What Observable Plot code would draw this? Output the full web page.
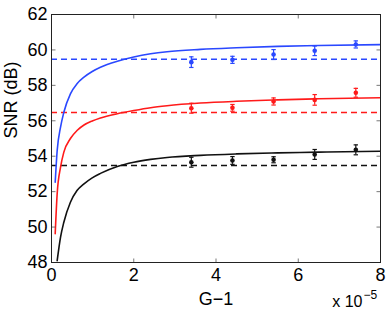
<!DOCTYPE html>
<html>
<head>
<meta charset="utf-8">
<script src="https://cdn.jsdelivr.net/npm/d3@7"></script>
<script src="https://cdn.jsdelivr.net/npm/@observablehq/plot@0.6"></script>
<style>
  html, body { margin: 0; padding: 0; background: #fff; }
</style>
</head>
<body>
<div id="chart"></div>
<script>
// ---- data (x in units of 1e-5) ----
const curveX = [0.09, 0.138, 0.22, 0.30, 0.46, 0.62, 0.79, 0.99, 1.19, 1.6, 2.0, 2.41, 2.81, 3.62, 4.5, 5.5, 6.5, 8.0];
const blueCurve = [52.53, 54.32, 55.64, 56.48, 57.52, 58.09, 58.46, 58.78, 59.02, 59.36, 59.60, 59.78, 59.90, 60.03, 60.12, 60.20, 60.25, 60.30];
const redCurve  = [49.62, 51.88, 53.38, 54.23, 55.00, 55.45, 55.76, 55.99, 56.16, 56.40, 56.58, 56.74, 56.85, 57.00, 57.10, 57.18, 57.24, 57.30];
const blackCurveX = [0.138, 0.22, 0.30, 0.46, 0.62, 0.79, 0.99, 1.19, 1.6, 2.0, 2.41, 2.81, 3.62, 4.5, 5.5, 6.5, 8.0];
const blackCurve  = [48.1, 49.43, 50.27, 51.4, 52.06, 52.44, 52.78, 53.03, 53.42, 53.66, 53.82, 53.93, 54.05, 54.13, 54.19, 54.23, 54.28];

const refLevels = [59.47, 56.47, 53.47];            // blue, red, black dashed

const pointX   = [3.4, 4.4, 5.4, 6.4, 7.4];
const blueY    = [59.31, 59.44, 59.74, 59.95, 60.31];
const blueErr  = [0.30, 0.20, 0.28, 0.27, 0.20];
const redY     = [56.71, 56.73, 57.09, 57.18, 57.58];
const redErr   = [0.28, 0.19, 0.20, 0.30, 0.25];
const blackY   = [53.66, 53.76, 53.80, 54.10, 54.36];
const blackErr = [0.28, 0.22, 0.17, 0.28, 0.28];

const seriesNames = ["blue", "red", "black"];
const colors = {blue: "#2a48ff", red: "#ff1a1a", black: "#111111"};

const xTicks = [0, 2, 4, 6, 8];
const yTicks = [48, 50, 52, 54, 56, 58, 60, 62];

// ---- build tables ----
const curves = [
  ...curveX.map((x, i) => ({s: "blue", x, y: blueCurve[i]})),
  ...curveX.map((x, i) => ({s: "red", x, y: redCurve[i]})),
  ...blackCurveX.map((x, i) => ({s: "black", x, y: blackCurve[i]}))
];
const refs = seriesNames.map((s, i) => ({s, y: refLevels[i]}));
const pts = [
  ...pointX.map((x, i) => ({s: "blue", x, y: blueY[i], e: blueErr[i]})),
  ...pointX.map((x, i) => ({s: "red", x, y: redY[i], e: redErr[i]})),
  ...pointX.map((x, i) => ({s: "black", x, y: blackY[i], e: blackErr[i]}))
];

// small symbol shapes for inward ticks and error-bar caps
const tickUp    = {draw(c) { c.moveTo(0, 0); c.lineTo(0, -4); }};
const tickDown  = {draw(c) { c.moveTo(0, 0); c.lineTo(0, 4); }};
const tickRight = {draw(c) { c.moveTo(0, 0); c.lineTo(4, 0); }};
const tickLeft  = {draw(c) { c.moveTo(0, 0); c.lineTo(-4, 0); }};
const cap       = {draw(c) { c.moveTo(-2.2, 0); c.lineTo(2.2, 0); }};

const chart = Plot.plot({
  width: 388,
  height: 309,
  marginLeft: 51,
  marginRight: 8,
  marginTop: 14,
  marginBottom: 47,
  style: {fontFamily: "'Liberation Sans', Arial, Helvetica, sans-serif", fontSize: "18px", background: "#fff", color: "#000"},
  x: {domain: [0, 8]},
  y: {domain: [48, 62]},
  marks: [
    Plot.axisX({ticks: xTicks, tickSize: 0, tickPadding: 6, tickFormat: d => d, label: null, fontSize: 18}),
    Plot.axisY({ticks: yTicks, tickSize: 0, tickPadding: 4, tickFormat: d => d, label: null, fontSize: 18}),
    Plot.ruleY(refs, {y: "y", stroke: d => colors[d.s], strokeWidth: 1.5, strokeDasharray: "6,4"}),
    Plot.line(curves, {x: "x", y: "y", z: "s", stroke: d => colors[d.s], strokeWidth: 1.6, curve: "monotone-x", clip: true}),
    Plot.ruleX(pts, {x: "x", y1: d => d.y - d.e, y2: d => d.y + d.e, stroke: d => colors[d.s], strokeWidth: 1.2}),
    Plot.dot(pts, {x: "x", y: d => d.y - d.e, symbol: cap, stroke: d => colors[d.s], strokeWidth: 1.2}),
    Plot.dot(pts, {x: "x", y: d => d.y + d.e, symbol: cap, stroke: d => colors[d.s], strokeWidth: 1.2}),
    Plot.dot(pts, {x: "x", y: "y", r: 2.3, fill: d => colors[d.s], stroke: null}),
    Plot.dot(xTicks, {x: d => d, frameAnchor: "bottom", symbol: tickUp, stroke: "#555", strokeWidth: 0.8}),
    Plot.dot(xTicks, {x: d => d, frameAnchor: "top", symbol: tickDown, stroke: "#555", strokeWidth: 0.8}),
    Plot.dot(yTicks, {y: d => d, frameAnchor: "left", symbol: tickRight, stroke: "#555", strokeWidth: 0.8}),
    Plot.dot(yTicks, {y: d => d, frameAnchor: "right", symbol: tickLeft, stroke: "#555", strokeWidth: 0.8}),
    Plot.frame({stroke: "#222", strokeWidth: 1}),
    Plot.text(["G−1"], {frameAnchor: "bottom", dy: 42, fontSize: 18, fill: "#000"}),
    Plot.text(["SNR (dB)"], {frameAnchor: "left", dx: -40, rotate: -90, fontSize: 18, fill: "#000"}),
    Plot.text(["x 10"], {frameAnchor: "bottom-right", dx: -18, dy: 44, textAnchor: "end", fontSize: 16, fill: "#000"}),
    Plot.text(["−5"], {frameAnchor: "bottom-right", dx: -17, dy: 36, textAnchor: "start", fontSize: 12, fill: "#000"})
  ]
});
document.getElementById("chart").appendChild(chart);
</script>
</body>
</html>
